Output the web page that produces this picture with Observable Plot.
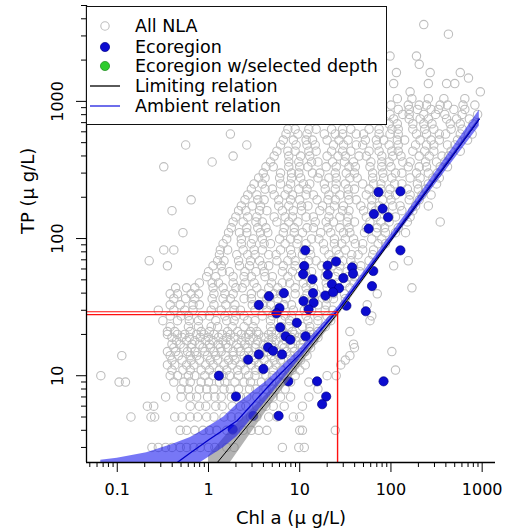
<!DOCTYPE html>
<html><head><meta charset="utf-8">
<script src="https://cdn.jsdelivr.net/npm/d3@7"></script>
<script src="https://cdn.jsdelivr.net/npm/@observablehq/plot@0.6"></script>
<style>
html,body{margin:0;padding:0;background:#fff;}
#wrap{position:relative;width:508px;height:531px;font-family:"DejaVu Sans",sans-serif;}
#wrap svg{display:block;}
#legend{position:absolute;left:86px;top:6px;width:301px;height:119px;box-sizing:border-box;border:1px solid #111;background:#fff;}
.li{position:absolute;left:0;height:20px;line-height:20px;font-size:17.5px;white-space:nowrap;color:#000;}
.li svg{position:absolute;left:0;top:0;}
.li span{position:absolute;left:48px;top:0;}
</style></head><body><div id="wrap"></div>
<script>
// ---------- data ----------
const xDomain = [0.046, 1400];     // Chl a (µg/L)
const yDomain = [2.33, 5000];      // TP (µg/L)
const xMajor = [0.1, 1, 10, 100, 1000];
const xMajorLabels = ["0.1", "1", "10", "100", "1000"];
const xMinor = [0.05,0.06,0.07,0.08,0.09,0.2,0.3,0.4,0.5,0.6,0.7,0.8,0.9,2,3,4,5,6,7,8,9,20,30,40,50,60,70,80,90,200,300,400,500,600,700,800,900];
const yMajor = [10, 100, 1000];
const yMajorLabels = ["10", "100", "1000"];
const yMinor = [3,4,5,6,7,8,9,20,30,40,50,60,70,80,90,200,300,400,500,600,700,800,900,2000,3000,4000,5000];
const xTitle = "Chl a (\u03bc g/L)";
const yTitle = "TP (\u03bc g/L)";

// All NLA lakes: rows of [log10 TP, [log10 Chl ...]]
const allNLA_log10 = [
 [0.477,[-0.62,-0.55,-0.47,-0.4,-0.31,-0.24,-0.16,-0.09,0.0,0.07,0.2,0.28,0.81,0.99,1.05]],
 [0.602,[-0.31,-0.24,-0.15,-0.06,0.01,0.09,0.2,0.27,0.38,0.47,0.55,0.64,1.0,1.03,1.39]],
 [0.699,[-0.85,-0.63,-0.59,-0.37,-0.29,-0.2,-0.12,-0.02,0.06,0.17,0.25,0.33,0.46,0.53,0.66,0.75,0.93,1.0]],
 [0.778,[-0.67,-0.6,-0.2,-0.1,-0.03,0.08,0.15,0.26,0.35,0.41,0.53,0.63,0.71,0.83,1.03]],
 [0.845,[-0.47,-0.3,-0.2,-0.13,-0.01,0.07,0.14,0.25,0.35,0.42,0.53,0.6,0.71,0.79,0.9,1.1]],
 [0.903,[-0.3,-0.22,-0.1,-0.02,0.06,0.17,0.24,0.33,0.45,0.52,0.63,0.7,0.84,1.2]],
 [0.954,[-0.98,-0.91,-0.38,-0.27,-0.2,-0.08,0.0,0.12,0.18,0.29,0.39,0.46,0.58,0.66,0.78,0.9,1.1]],
 [1.0,[-1.18,-0.42,-0.34,-0.22,-0.15,-0.04,0.05,0.16,0.23,0.33,0.44,0.51,0.63,0.7,0.82,0.95,1.3,1.4]],
 [1.041,[-0.4,-0.28,-0.2,-0.08,0.01,0.12,0.2,0.32,0.4,0.52,0.59,0.71,0.8,0.92,1.0,2.05]],
 [1.079,[-0.45,-0.37,-0.24,-0.16,-0.03,0.05,0.17,0.26,0.35,0.47,0.55,0.66,0.74,0.87,0.95,1.06,1.45]],
 [1.114,[-0.4,-0.29,-0.19,-0.1,0.02,0.1,0.22,0.29,0.42,0.5,0.61,0.72,0.79,0.91,1.01,1.5]],
 [1.146,[-0.95,-0.42,-0.33,-0.2,-0.13,-0.01,0.08,0.19,0.27,0.39,0.48,0.57,0.69,0.77,0.9,0.98,1.08,1.55]],
 [1.176,[-0.45,-0.36,-0.23,-0.15,-0.04,0.06,0.14,0.27,0.35,0.44,0.56,0.65,0.74,0.86,0.94,1.06,2.01]],
 [1.204,[-0.38,-0.27,-0.19,-0.06,0.02,0.13,0.21,0.33,0.43,0.51,0.63,0.71,0.83,0.92,1.03,1.12,1.6]],
 [1.230,[-0.4,-0.31,-0.18,-0.1,0.01,0.11,0.19,0.31,0.4,0.52,0.6,0.69,0.81,0.9,1.01,1.1,1.59]],
 [1.255,[-0.35,-0.24,-0.15,-0.03,0.05,0.16,0.24,0.36,0.45,0.54,0.66,0.74,0.85,0.96,1.04,1.15]],
 [1.279,[-0.4,-0.29,-0.21,-0.09,0.0,0.11,0.2,0.29,0.41,0.49,0.61,0.7,0.79,0.91,0.99,1.11,1.2]],
 [1.301,[-0.45,-0.34,-0.26,-0.13,-0.05,0.06,0.15,0.24,0.36,0.44,0.55,0.66,0.74,0.86,0.94,1.05,1.15]],
 [1.322,[-0.45,-0.37,-0.2,-0.08,0.01,0.21,0.32,0.46,0.53,0.69,0.82,0.92,1.11,1.2,1.55]],
 [1.357,[-0.42,-0.22,-0.11,0.03,0.1,0.26,0.39,0.49,0.68,0.8,0.88,1.03,1.11,1.28]],
 [1.401,[-0.5,-0.34,-0.21,-0.11,0.08,0.2,0.28,0.43,0.51,0.68,0.8,0.89,1.09,1.2,1.34,1.77]],
 [1.436,[-0.42,-0.3,-0.22,-0.07,0.01,0.18,0.3,0.39,0.59,0.7,0.84,0.91,1.07,1.2,1.3,1.79]],
 [1.478,[-0.55,-0.38,-0.26,-0.17,0.03,0.14,0.28,0.35,0.51,0.64,0.74,0.93,1.05,1.13,1.28,1.36]],
 [1.517,[-0.42,-0.31,-0.17,-0.1,0.06,0.19,0.29,0.48,0.6,0.68,0.83,0.91,1.08,1.2,1.29,1.49,1.74]],
 [1.562,[-0.38,-0.25,-0.15,0.04,0.16,0.24,0.39,0.47,0.64,0.76,0.85,1.05,1.16,1.3,1.37,1.5]],
 [1.597,[-0.42,-0.34,-0.19,-0.11,0.06,0.18,0.27,0.47,0.58,0.72,0.79,0.95,1.08,1.18,1.37,1.49,1.85]],
 [1.641,[-0.36,-0.24,-0.15,0.05,0.16,0.3,0.37,0.53,0.66,0.76,0.95,1.07,1.15,1.3,1.38,1.55,2.23]],
 [1.676,[-0.1,0.04,0.11,0.27,0.4,0.5,0.69,0.81,0.89,1.04,1.12,1.29,1.41,1.5,1.6]],
 [1.722,[-0.02,0.08,0.27,0.39,0.47,0.62,0.7,0.87,0.99,1.08,1.28,1.39,1.53,1.6]],
 [1.758,[0.0,0.15,0.23,0.4,0.52,0.61,0.81,0.92,1.06,1.13,1.29,1.42,1.52,1.66]],
 [1.801,[-0.45,0.05,0.14,0.34,0.45,0.59,0.66,0.82,0.95,1.05,1.24,1.36,1.44,1.59,1.67,2.03]],
 [1.838,[-0.65,0.1,0.17,0.33,0.46,0.56,0.75,0.87,0.95,1.1,1.18,1.35,1.47,1.56,1.76,2.19]],
 [1.882,[0.12,0.31,0.43,0.51,0.66,0.74,0.91,1.03,1.12,1.32,1.43,1.57,1.64,1.8]],
 [1.917,[-0.49,-0.38,0.13,0.21,0.38,0.5,0.59,0.79,0.9,1.04,1.11,1.27,1.4,1.5,1.69,1.81]],
 [1.962,[0.16,0.36,0.47,0.61,0.68,0.84,0.97,1.07,1.26,1.38,1.46,1.61,1.69,1.86,1.94]],
 [1.997,[0.2,0.36,0.49,0.59,0.78,0.9,0.98,1.13,1.21,1.38,1.5,1.59,1.79,1.9]],
 [2.043,[-0.28,0.22,0.34,0.42,0.57,0.65,0.82,0.94,1.03,1.23,1.34,1.48,1.55,1.71,1.84,1.94,2.05,2.16]],
 [2.078,[0.25,0.42,0.54,0.63,0.83,0.94,1.08,1.15,1.31,1.44,1.54,1.73,1.85,1.93,2.08]],
 [2.121,[0.27,0.38,0.52,0.59,0.75,0.88,0.98,1.17,1.29,1.37,1.52,1.6,1.77,1.89,1.98,2.18,2.54]],
 [2.158,[0.3,0.43,0.53,0.72,0.84,0.92,1.07,1.15,1.32,1.44,1.53,1.73,1.84,1.98,2.05,2.21]],
 [2.203,[-0.4,0.33,0.41,0.56,0.64,0.81,0.93,1.02,1.22,1.33,1.47,1.54,1.7,1.83,1.93,2.12,2.24]],
 [2.238,[0.36,0.48,0.57,0.77,0.88,1.02,1.09,1.25,1.38,1.48,1.67,1.79,1.87,2.02,2.1,2.27,2.41]],
 [2.282,[-0.19,0.4,0.54,0.61,0.77,0.9,1.0,1.19,1.31,1.39,1.54,1.62,1.79,1.91,2.0,2.2,2.31]],
 [2.318,[0.43,0.53,0.72,0.84,0.92,1.07,1.15,1.32,1.44,1.53,1.73,1.84,1.98,2.05,2.21,2.34,2.44]],
 [2.361,[0.47,0.62,0.7,0.87,0.99,1.08,1.28,1.39,1.53,1.6,1.76,1.89,1.99,2.18,2.3,2.38]],
 [2.398,[0.5,0.59,0.79,0.9,1.04,1.11,1.27,1.4,1.5,1.69,1.81,1.89,2.04,2.12,2.29,2.41,2.5]],
 [2.442,[0.55,0.62,0.78,0.91,1.01,1.2,1.32,1.4,1.55,1.63,1.8,1.92,2.01,2.21,2.32,2.46,2.53]],
 [2.477,[0.6,0.79,0.91,0.99,1.14,1.22,1.39,1.51,1.6,1.8,1.91,2.05,2.12,2.28,2.41,2.51]],
 [2.523,[-0.49,0.63,0.71,0.88,1.0,1.09,1.29,1.4,1.54,1.61,1.77,1.9,2.0,2.19,2.31,2.39,2.54,2.62]],
 [2.558,[0.04,0.68,0.88,0.99,1.13,1.2,1.36,1.49,1.59,1.78,1.9,1.98,2.13,2.21,2.38,2.5,2.59]],
 [2.601,[0.27,0.72,0.88,1.01,1.11,1.3,1.42,1.5,1.65,1.73,1.9,2.02,2.11,2.31,2.42,2.56,2.63]],
 [2.637,[0.75,0.87,0.95,1.1,1.18,1.35,1.47,1.56,1.76,1.87,2.01,2.08,2.24,2.37,2.47,2.66,2.76]],
 [2.682,[-0.25,0.42,0.79,0.96,1.08,1.17,1.37,1.48,1.62,1.69,1.85,1.98,2.08,2.27,2.39,2.47,2.62,2.7]],
 [2.718,[0.82,0.93,1.07,1.14,1.3,1.43,1.53,1.72,1.84,1.92,2.07,2.15,2.32,2.44,2.53,2.73,2.84]],
 [2.762,[0.24,0.85,0.98,1.08,1.27,1.39,1.47,1.62,1.7,1.87,1.99,2.08,2.28,2.39,2.53,2.6,2.76,2.89]],
 [2.797,[0.87,0.95,1.1,1.18,1.35,1.47,1.56,1.76,1.87,2.01,2.08,2.24,2.37,2.47,2.66,2.78]],
 [2.836,[1.98,2.07,2.24,2.36,2.45,2.65,2.76,2.9]],
 [2.872,[2.03,2.2,2.32,2.41,2.61,2.72,2.86]],
 [2.905,[1.99,2.13,2.2,2.36,2.49,2.59,2.78,2.95]],
 [2.941,[2.08,2.2,2.29,2.44,2.52,2.69,2.81]],
 [2.973,[2.0,2.19,2.31,2.39,2.54,2.62,2.79,2.92]],
 [3.02,[2.07,2.23,2.41,2.58,2.81]],
 [3.07,[2.21,2.98]],
 [3.13,[2.03,2.41,2.61,2.7]],
 [3.17,[2.85]],
 [3.21,[2.06,2.43,2.76]],
 [3.27,[2.31]],
 [3.33,[1.99,2.28]],
 [3.49,[2.63]],
 [3.56,[2.36]]
];

// Ecoregion lakes
const ecoChl = [73,127,65,81,93,57,127,11.5,20.2,25,37.5,64,11.2,10.9,20.3,38.4,13.8,22.5,27,30.1,62,6.7,4.6,14,19.1,23.2,11,14.2,3.56,6.0,12.5,32.5,53,5.55,9.3,6.1,7.0,7.9,11.6,4.5,5.1,6.4,3.56,2.72,4.0,1.30,7.5,15.5,83,2.0,19.5,17.6,5.87,3.1,1.84];
const ecoTP  = [218,221,151,165,143,118,82,82,63.5,68,61.6,58,63,55,54.5,55.5,50.5,46.5,43.5,51.5,45,40,38,40,38.4,40.6,35,34,32.8,31.1,30.5,32.4,29.5,28.5,24.3,22.5,19.4,18.3,19.4,16.1,15.2,14.3,14.3,13.1,11.2,10,9.1,9.1,9.1,7.05,7.05,6.2,5.1,5.1,4.07];

// Limiting relation (black) and its band
const limChl = [1.0, 1.25, 4.78, 26.9, 150, 930];
const limTP  = [1.95, 2.33, 6.9, 29.3, 140, 740];
const limBandChl = [1.0, 1.74, 4.78, 26.9, 150, 930];
const limBandLo  = [1.45, 2.33, 6.1, 27.8, 134, 715];
const limBandHi  = [2.6, 4.0, 7.8, 30.9, 146, 765];

// Ambient relation (blue) and its band
const ambChl = [0.2, 0.454, 0.635, 1, 2.06, 5, 10, 26.9, 150, 930];
const ambTP  = [1.9, 2.33, 2.74, 3.4, 4.7, 9.0, 14.3, 30.8, 143, 745];
const ambBandChl = [0.066, 0.1, 0.21, 0.4, 0.635, 0.82, 1.47, 2.06, 4.4, 10, 26.9, 150, 930];
const ambBandHi  = [2.42, 2.5, 2.75, 3.15, 3.55, 3.9, 5.0, 6.2, 9.2, 15.6, 32.3, 155, 860];
const ambBandLo  = [0.9, 1.0, 1.25, 1.7, 2.05, 2.33, 3.0, 3.6, 6.7, 13.2, 29.5, 132, 660];

// Red criterion lines
const targetChl = 26;
const targetTP = [29.3, 27.9];

// Legend
const legendItems = [
  {label: "All NLA", kind: "open", color: "#bebebe"},
  {label: "Ecoregion", kind: "dot", color: "#0c0cd0"},
  {label: "Ecoregion w/selected depth", kind: "dot", color: "#2ecc2e"},
  {label: "Limiting relation", kind: "line", color: "#000000"},
  {label: "Ambient relation", kind: "line", color: "#2020e0"}
];

// ---------- build ----------
const nla = allNLA_log10.flatMap(([lv, us]) => us.map(lu => ({chl: 10 ** lu, tp: 10 ** lv})));
const eco = ecoChl.map((c, i) => ({chl: c, tp: ecoTP[i]}));
const limLine = limChl.map((c, i) => ({chl: c, tp: limTP[i]}));
const ambLine = ambChl.map((c, i) => ({chl: c, tp: ambTP[i]}));
const limBand = limBandChl.map((c, i) => ({chl: c, lo: limBandLo[i], hi: limBandHi[i]}));
const ambBand = ambBandChl.map((c, i) => ({chl: c, lo: ambBandLo[i], hi: ambBandHi[i]}));

const chart = Plot.plot({
  width: 508, height: 531,
  marginLeft: 86, marginRight: 13, marginTop: 5, marginBottom: 69,
  x: {type: "log", domain: xDomain},
  y: {type: "log", domain: yDomain},
  style: {fontFamily: "DejaVu Sans", fontSize: "16px", color: "#000", background: "#fff", overflow: "visible"},
  marks: [
    Plot.dot(nla, {x: "chl", y: "tp", r: 4.2, stroke: "#bebebe", strokeWidth: 1.1, fill: "none", clip: true}),
    Plot.dot(eco, {x: "chl", y: "tp", r: 4.6, fill: "#0c0cd0", stroke: "#00008a", strokeWidth: 0.7, clip: true}),
    Plot.areaY(limBand, {x: "chl", y1: "lo", y2: "hi", fill: "#808080", fillOpacity: 0.6, clip: true}),
    Plot.areaY(ambBand, {x: "chl", y1: "lo", y2: "hi", fill: "#1414f0", fillOpacity: 0.58, clip: true}),
    Plot.line(limLine, {x: "chl", y: "tp", stroke: "#000", strokeWidth: 1, clip: true}),
    Plot.line(ambLine, {x: "chl", y: "tp", stroke: "#0000c8", strokeWidth: 1.3, clip: true}),
    Plot.ruleX([targetChl], {y1: yDomain[0], y2: targetTP[0], stroke: "#ff1010", strokeWidth: 1.4}),
    Plot.ruleY(targetTP, {x1: xDomain[0], x2: targetChl, stroke: "#ff1010", strokeWidth: 1.1}),
    Plot.ruleX([xDomain[0]], {stroke: "#000", strokeWidth: 1.3}),
    Plot.ruleY([yDomain[0]], {stroke: "#000", strokeWidth: 1.3}),
    Plot.axisX({ticks: xMinor, tickSize: 5, tickFormat: () => "", label: null}),
    Plot.axisX({ticks: xMajor, tickSize: 10, tickPadding: 11, tickFormat: d => xMajorLabels[xMajor.indexOf(d)], label: null, fontSize: 16}),
    Plot.axisY({ticks: yMinor, tickSize: 5, tickFormat: () => "", label: null}),
    Plot.axisY({ticks: yMajor, tickSize: 10, tickFormat: () => "", label: null}),
    Plot.text(yMajor, {y: d => d, text: (d, i) => yMajorLabels[i], frameAnchor: "left", dx: -29, rotate: -90, textAnchor: "middle", lineAnchor: "middle", fontSize: 16}),
    Plot.text([xTitle], {frameAnchor: "bottom", dy: 56, lineAnchor: "middle", fontSize: 18}),
    Plot.text([yTitle], {frameAnchor: "left", dx: -58, rotate: -90, lineAnchor: "middle", fontSize: 18})
  ]
});
const wrap = document.getElementById("wrap");
wrap.appendChild(chart);

// legend box overlay
const lg = document.createElement("div");
lg.id = "legend";
const centers = [19, 39.5, 59, 79, 99];
legendItems.forEach((it, i) => {
  const row = document.createElement("div");
  row.className = "li";
  row.style.top = (centers[i] - 10) + "px";
  row.style.width = "296px";
  let sym;
  if (it.kind === "open") sym = `<circle cx="18" cy="10" r="4.2" fill="none" stroke="${it.color}" stroke-width="1.1"/>`;
  else if (it.kind === "dot") sym = `<circle cx="18" cy="10" r="4.6" fill="${it.color}" stroke="${it.color === '#0c0cd0' ? '#00008a' : '#1a8a1a'}" stroke-width="0.7"/>`;
  else sym = `<line x1="3" x2="33" y1="10" y2="10" stroke="${it.color}" stroke-width="1.3"/>`;
  row.innerHTML = `<svg width="40" height="20">${sym}</svg><span>${it.label}</span>`;
  lg.appendChild(row);
});
wrap.appendChild(lg);
</script></body></html>
